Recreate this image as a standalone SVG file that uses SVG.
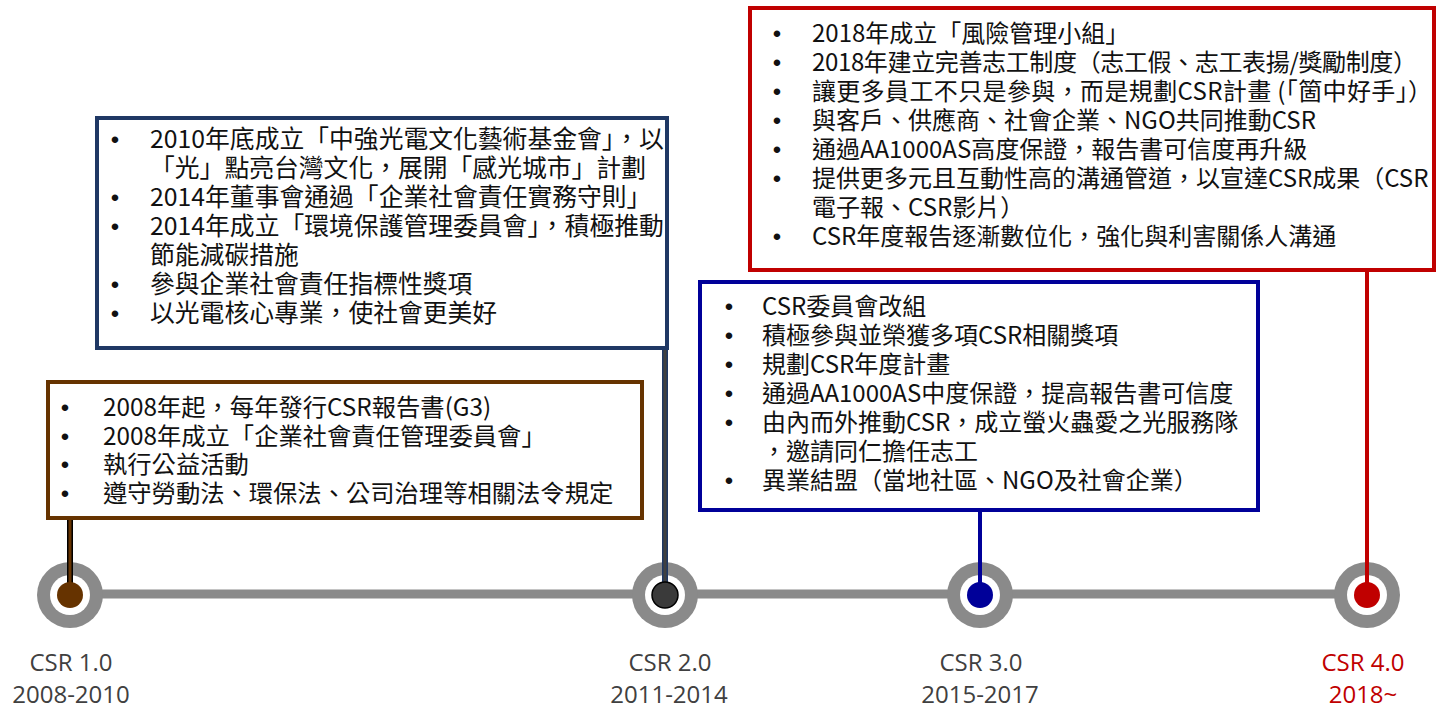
<svg xmlns="http://www.w3.org/2000/svg" width="1437" height="709" viewBox="0 0 1437 709">
<style>
.box{fill:#fff;stroke-width:4}
.t{font-family:"Noto Sans CJK TC","Noto Sans CJK SC",sans-serif;font-size:24px;fill:#111}
.b1 .t{font-size:24.3px}
.b2 .t{font-size:24.8px}
.bu{font-family:"Liberation Sans",Arial,sans-serif;font-size:24px;fill:#111;text-anchor:middle}
.lbl{font-family:"Open Sans","Liberation Sans",sans-serif;font-size:24px;fill:#404040;text-anchor:middle}
.ring{fill:#8a8a8a}
.hole{fill:#fff}
</style>
<rect width="1437" height="709" fill="#fff"/>
<line x1="70" y1="594" x2="1367" y2="594" stroke="#8a8a8a" stroke-width="9"/>
<g id="m1"><circle class="ring" cx="70" cy="595" r="33"/><circle class="hole" cx="70" cy="595" r="20"/></g>
<g id="m2"><circle class="ring" cx="665" cy="595" r="33"/><circle class="hole" cx="665" cy="595" r="20"/></g>
<g id="m3"><circle class="ring" cx="980" cy="595" r="33"/><circle class="hole" cx="980" cy="595" r="20"/></g>
<g id="m4"><circle class="ring" cx="1367" cy="595" r="33"/><circle class="hole" cx="1367" cy="595" r="20"/></g>
<g id="connectors">
<line x1="70" y1="518" x2="70" y2="595" stroke="#000" stroke-width="6"/>
<line x1="70" y1="518" x2="70" y2="595" stroke="#663300" stroke-width="3"/>
<line x1="665" y1="348" x2="665" y2="595" stroke="#1f3864" stroke-width="6"/>
<line x1="665" y1="348" x2="665" y2="595" stroke="#404040" stroke-width="3"/>
<line x1="980" y1="510" x2="980" y2="595" stroke="#000099" stroke-width="4"/>
<line x1="1367" y1="268" x2="1367" y2="595" stroke="#c00000" stroke-width="4"/>
</g>
<g id="dots">
<circle cx="70" cy="595" r="13" fill="#663300"/>
<circle cx="665" cy="595" r="13" fill="#3a3a3a" stroke="#000" stroke-width="1.5"/>
<circle cx="980" cy="595" r="13" fill="#000099"/>
<circle cx="1367" cy="595" r="13" fill="#c00000"/>
</g>
<g id="labels">
<text class="lbl" x="71" y="671">CSR 1.0</text>
<text class="lbl" x="71" y="703">2008-2010</text>
<text class="lbl" x="670" y="671">CSR 2.0</text>
<text class="lbl" x="669" y="703">2011-2014</text>
<text class="lbl" x="981" y="671">CSR 3.0</text>
<text class="lbl" x="980" y="703">2015-2017</text>
<text class="lbl" x="1363" y="671" style="fill:#c00000">CSR 4.0</text>
<text class="lbl" x="1363" y="703" style="fill:#c00000">2018~</text>
</g>
<g id="box1" class="b1">
<rect class="box" x="48" y="382" width="594" height="136" stroke="#663300"/>
<text class="bu" x="65" y="416">•</text><text class="t" x="103" y="416">2008年起，每年發行CSR報告書(G3)</text>
<text class="bu" x="65" y="445">•</text><text class="t" x="103" y="445">2008年成立「企業社會責任管理委員會」</text>
<text class="bu" x="65" y="473">•</text><text class="t" x="103" y="473">執行公益活動</text>
<text class="bu" x="65" y="502">•</text><text class="t" x="103" y="502">遵守勞動法、環保法、公司治理等相關法令規定</text>
</g>
<g id="box2" class="b2">
<rect class="box" x="97" y="118" width="570" height="230" stroke="#1f3864"/>
<text class="bu" x="115" y="148">•</text><text class="t" x="150" y="148">2010年底成立「中強光電文化藝術基金會」，以</text>
<text class="t" x="150" y="177">「光」點亮台灣文化，展開「感光城市」計劃</text>
<text class="bu" x="115" y="206">•</text><text class="t" x="150" y="206">2014年董事會通過「企業社會責任實務守則」</text>
<text class="bu" x="115" y="235">•</text><text class="t" x="150" y="235">2014年成立「環境保護管理委員會」，積極推動</text>
<text class="t" x="150" y="264">節能減碳措施</text>
<text class="bu" x="115" y="293">•</text><text class="t" x="150" y="293">參與企業社會責任指標性獎項</text>
<text class="bu" x="115" y="322">•</text><text class="t" x="150" y="322">以光電核心專業，使社會更美好</text>
</g>
<g id="box3">
<rect class="box" x="700" y="282" width="558" height="228" stroke="#000099"/>
<text class="bu" x="729" y="315">•</text><text class="t" x="762" y="315">CSR委員會改組</text>
<text class="bu" x="729" y="344">•</text><text class="t" x="762" y="344">積極參與並榮獲多項CSR相關獎項</text>
<text class="bu" x="729" y="373">•</text><text class="t" x="762" y="373">規劃CSR年度計畫</text>
<text class="bu" x="729" y="402">•</text><text class="t" x="762" y="402">通過AA1000AS中度保證，提高報告書可信度</text>
<text class="bu" x="729" y="431">•</text><text class="t" x="762" y="431">由內而外推動CSR，成立螢火蟲愛之光服務隊</text>
<text class="t" x="762" y="460">，邀請同仁擔任志工</text>
<text class="bu" x="729" y="489">•</text><text class="t" x="762" y="489">異業結盟（當地社區、NGO及社會企業）</text>
</g>
<g id="box4">
<rect class="box" x="750" y="8" width="684" height="262" stroke="#c00000"/>
<text class="bu" x="777" y="42">•</text><text class="t" x="812" y="42">2018年成立「風險管理小組」</text>
<text class="bu" x="777" y="71">•</text><text class="t" x="812" y="71" textLength="605">2018年建立完善志工制度（志工假、志工表揚/獎勵制度）</text>
<text class="bu" x="777" y="100">•</text><text class="t" x="812" y="100" textLength="620">讓更多員工不只是參與，而是規劃CSR計畫 (「箇中好手」）</text>
<text class="bu" x="777" y="129">•</text><text class="t" x="812" y="129">與客戶、供應商、社會企業、NGO共同推動CSR</text>
<text class="bu" x="777" y="158">•</text><text class="t" x="812" y="158">通過AA1000AS高度保證，報告書可信度再升級</text>
<text class="bu" x="777" y="187">•</text><text class="t" x="812" y="187">提供更多元且互動性高的溝通管道，以宣達CSR成果（CSR</text>
<text class="t" x="812" y="216">電子報、CSR影片）</text>
<text class="bu" x="777" y="245">•</text><text class="t" x="812" y="245">CSR年度報告逐漸數位化，強化與利害關係人溝通</text>
</g>
</svg>
